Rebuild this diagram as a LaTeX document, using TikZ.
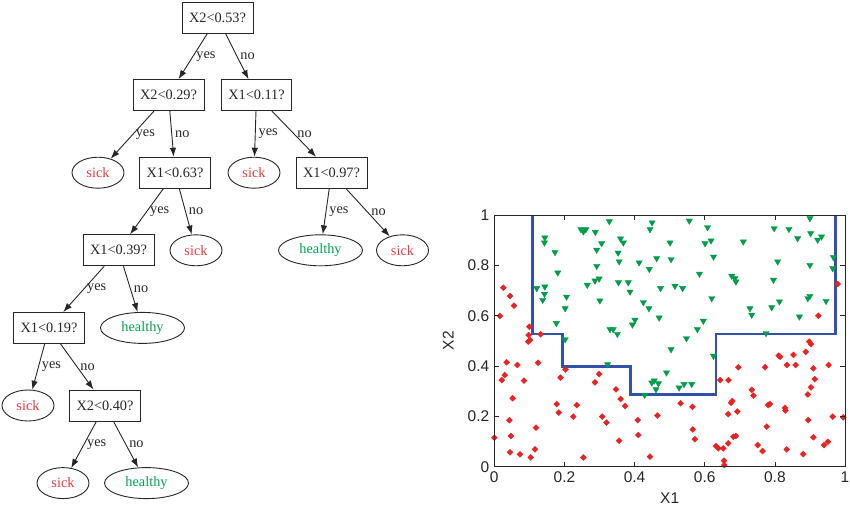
\documentclass[tikz,border=0pt]{standalone}
\usepackage{fontspec}
\setmainfont{Liberation Serif}
\setsansfont{Liberation Sans}
\usetikzlibrary{arrows.meta,positioning,shapes,plotmarks}
\definecolor{sickred}{RGB}{236,58,62}
\definecolor{okgreen}{RGB}{0,164,82}
\definecolor{inkgray}{RGB}{38,38,38}
\definecolor{cutblue}{RGB}{50,82,170}
\definecolor{dotred}{RGB}{236,34,34}
\definecolor{dotgreen}{RGB}{0,158,72}
\tikzstyle{test}=[rectangle,draw=inkgray,line width=0.9pt,text=inkgray,
	minimum height=31pt,inner xsep=7pt]
\tikzstyle{leaf}=[ellipse,draw=inkgray,line width=0.9pt,minimum height=31pt,inner sep=0pt]
\tikzstyle{sick}=[leaf,text=sickred,minimum width=52pt]
\tikzstyle{healthy}=[leaf,text=okgreen,minimum width=84pt]
\tikzstyle{lbl}=[right,inner sep=3pt,text=inkgray]

\begin{document}
\begin{tikzpicture}[x=1pt,y=1pt,node distance=77.6pt,
	>={Latex[length=9pt,width=6.5pt]},
	every edge/.style={draw=inkgray,line width=0.9pt},
	font=\fontsize{14.3}{17}\selectfont]
	\useasboundingbox (0,0) rectangle (850,-508);

	% decision tree
		\node[test] (root) at (217.5,-17.5) {X2<0.53?};
		\node[test, below of=root, xshift=-49pt] (t029) {X2<0.29?};
		\node[test, below of=root, xshift=39pt] (t011) {X1<0.11?};
		\node[sick, below of=t029, xshift=-70.5pt] (s1) {sick};
		\node[test, below of=t029, xshift=6.5pt] (t063) {X1<0.63?};
		\node[sick, below of=t011, xshift=-2.5pt] (s2) {sick};
		\node[test, below of=t011, xshift=75pt] (t097) {X1<0.97?};
		\node[test, below of=t063, xshift=-56.5pt] (t039) {X1<0.39?};
		\node[sick, below of=t063, xshift=21pt] (s3) {sick};
		\node[healthy, below of=t097, xshift=-11pt] (h1) {healthy};
		\node[sick, below of=t097, xshift=71pt] (s4) {sick};
		\node[test, below of=t039, xshift=-69.5pt] (t019) {X1<0.19?};
		\node[healthy, below of=t039, xshift=24pt] (h2) {healthy};
		\node[sick, below of=t019, xshift=-21pt] (s5) {sick};
		\node[test, below of=t019, xshift=56pt] (t040) {X2<0.40?};
		\node[sick, below of=t040, xshift=-42pt] (s6) {sick};
		\node[healthy, below of=t040, xshift=41.5pt] (h3) {healthy};

		\path[->] (root) edge node[lbl] {yes} (t029) edge node[lbl] {no} (t011);
		\path[->] (t029) edge node[lbl] {yes} (s1) edge node[lbl] {no} (t063);
		\path[->] (t011) edge node[lbl] {yes} (s2) edge node[lbl] {no} (t097);
		\path[->] (t063) edge node[lbl] {yes} (t039) edge node[lbl] {no} (s3);
		\path[->] (t097) edge node[lbl] {yes} (h1) edge node[lbl] {no} (s4);
		\path[->] (t039) edge node[lbl] {yes} (t019) edge node[lbl] {no} (h2);
		\path[->] (t019) edge node[lbl] {yes} (s5) edge node[lbl] {no} (t040);
		\path[->] (t040) edge node[lbl] {yes} (s6) edge node[lbl] {no} (h3);

	% scatter plot of the split
	\begin{scope}[shift={(494.3,-466.7)},x=350.7pt,y=251.7pt,
		font=\sffamily\fontsize{15.5}{18}\selectfont]
		\draw[cutblue,line width=2.8pt] (0.110,1) -- (0.110,0.527) -- (0.195,0.527)
			-- (0.195,0.397) -- (0.389,0.397) -- (0.389,0.287) -- (0.632,0.287)
			-- (0.632,0.527) -- (0.974,0.527) -- (0.974,1);
		\draw[dotgreen,fill=dotgreen] plot[only marks,mark=triangle*,mark size=3.6pt,
			mark options={rotate=180}] coordinates {
			(0.121,0.709) (0.144,0.910) (0.143,0.890) (0.144,0.715) (0.143,0.686)
			(0.138,0.662) (0.173,0.852) (0.181,0.771) (0.206,0.675) (0.202,0.629)
			(0.177,0.570) (0.202,0.506) (0.247,0.943) (0.254,0.934) (0.261,0.943)
			(0.288,0.932) (0.292,0.861) (0.292,0.797) (0.287,0.739) (0.299,0.747)
			(0.301,0.660) (0.265,0.722) (0.306,0.887) (0.328,0.975) (0.330,0.546)
			(0.339,0.546) (0.351,0.527) (0.360,0.906) (0.368,0.890) (0.353,0.850)
			(0.356,0.815) (0.354,0.732) (0.382,0.732) (0.387,0.695) (0.394,0.564)
			(0.401,0.583) (0.413,0.811) (0.425,0.653) (0.441,0.629) (0.442,0.785)
			(0.444,0.943) (0.450,0.970) (0.463,0.828) (0.470,0.592) (0.474,0.709)
			(0.501,0.890) (0.504,0.824) (0.504,0.466) (0.515,0.718) (0.537,0.709)
			(0.548,0.510) (0.556,0.977) (0.579,0.546) (0.585,0.766) (0.596,0.579)
			(0.601,0.887) (0.608,0.951) (0.618,0.898) (0.620,0.669) (0.625,0.834)
			(0.625,0.440) (0.677,0.758) (0.686,0.748) (0.689,0.735) (0.710,0.894)
			(0.729,0.629) (0.734,0.603) (0.775,0.530) (0.791,0.633) (0.796,0.742)
			(0.798,0.947) (0.808,0.815) (0.813,0.656) (0.840,0.944) (0.865,0.907)
			(0.870,0.596) (0.894,0.669) (0.900,0.678) (0.900,0.987) (0.902,0.927)
			(0.900,0.801) (0.922,0.901) (0.933,0.914) (0.946,0.658) (0.967,0.832)
			(0.965,0.788) (0.323,0.407) (0.429,0.285) (0.449,0.334) (0.456,0.342)
			(0.468,0.331) (0.461,0.307) (0.491,0.374) (0.527,0.314) (0.541,0.328)
			(0.563,0.328)};
		\draw[dotred,fill=dotred] plot[only marks,mark=square*,mark size=2.1pt,
			mark options={rotate=45}] coordinates {
			(0.016,0.599) (0.026,0.711) (0.045,0.678) (0.056,0.640) (0.100,0.556)
			(0.098,0.523) (0.102,0.503) (0.097,0.497) (0.132,0.526) (0.979,0.726)
			(0.924,0.600) (0.898,0.497) (0.903,0.487) (0.888,0.456) (0.853,0.444)
			(0.815,0.437) (0.811,0.441) (0.000,0.115) (0.021,0.344) (0.030,0.364)
			(0.035,0.415) (0.043,0.185) (0.045,0.057) (0.047,0.122) (0.052,0.272)
			(0.066,0.404) (0.073,0.049) (0.085,0.342) (0.104,0.037) (0.119,0.155)
			(0.116,0.069) (0.125,0.413) (0.178,0.249) (0.184,0.215) (0.189,0.354)
			(0.203,0.387) (0.225,0.199) (0.235,0.245) (0.254,0.037) (0.287,0.335)
			(0.299,0.368) (0.308,0.199) (0.320,0.175) (0.347,0.307) (0.356,0.103)
			(0.360,0.269) (0.373,0.241) (0.409,0.185) (0.411,0.126) (0.444,0.040)
			(0.465,0.203) (0.531,0.252) (0.565,0.238) (0.566,0.148) (0.572,0.109)
			(0.632,0.082) (0.639,0.073) (0.644,0.344) (0.653,0.073) (0.655,0.024)
			(0.656,0.007) (0.667,0.093) (0.668,0.344) (0.667,0.209) (0.675,0.254)
			(0.679,0.261) (0.682,0.119) (0.689,0.122) (0.693,0.219) (0.696,0.395)
			(0.734,0.305) (0.739,0.282) (0.751,0.086) (0.765,0.062) (0.772,0.395)
			(0.777,0.159) (0.781,0.245) (0.786,0.249) (0.829,0.234) (0.830,0.223)
			(0.834,0.069) (0.834,0.404) (0.859,0.404) (0.881,0.050) (0.894,0.287)
			(0.895,0.185) (0.903,0.315) (0.910,0.117) (0.910,0.391) (0.914,0.348)
			(0.940,0.086) (0.951,0.099) (0.953,0.404) (0.965,0.199) (0.995,0.196)};
		\draw[inkgray,line width=0.9pt] (0,0) rectangle (1,1);
		\foreach \t [count=\i] in {0,0.2,0.4,0.6,0.8,1} {
			\draw[inkgray,line width=0.7pt] (\t,0) -- ++(0,5pt) (\t,1) -- ++(0,-5pt)
				(0,\t) -- ++(5pt,0) (1,\t) -- ++(-5pt,0);
			\node[below=1.5pt,text=inkgray] (xt\i) at (\t,0) {\t};
			\node[left=1.5pt,text=inkgray] (yt\i) at (0,\t) {\t};
		}
		\node[yshift=-31pt,text=inkgray] (xlab) at (0.5,0) {X1};
		\node[xshift=-46pt,rotate=90,text=inkgray] (ylab) at (0,0.5) {X2};
	\end{scope}
\end{tikzpicture}
\end{document}
